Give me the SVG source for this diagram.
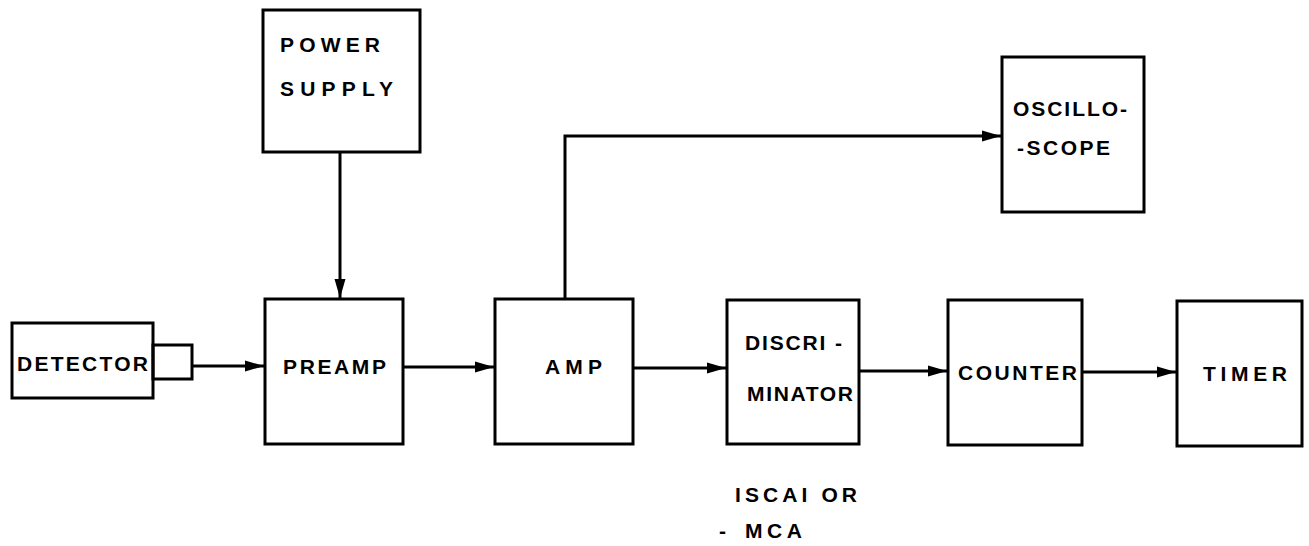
<svg xmlns="http://www.w3.org/2000/svg" width="1309" height="546" viewBox="0 0 1309 546">
<style>
.box{fill:none;stroke:#000;stroke-width:3}
.lbl{font-family:"Liberation Sans",Arial,sans-serif;font-weight:bold;font-size:21px;fill:#000}
.wire{fill:none;stroke:#000;stroke-width:3}
</style>
<defs>
<marker id="arr" markerUnits="userSpaceOnUse" markerWidth="20" markerHeight="14" refX="19" refY="7" orient="auto">
<path d="M0,1.5 L19,7 L0,12.5 Z" fill="#000"/>
</marker>
</defs>
<rect width="1309" height="546" fill="#fff"/>
<g id="connectors">
<line class="wire" x1="192" y1="366" x2="264" y2="366" marker-end="url(#arr)"/>
<line class="wire" x1="340" y1="152" x2="340" y2="298" marker-end="url(#arr)"/>
<line class="wire" x1="403" y1="367" x2="494" y2="367" marker-end="url(#arr)"/>
<polyline class="wire" points="565,299 565,136 1001,136" marker-end="url(#arr)"/>
<line class="wire" x1="633" y1="368" x2="726" y2="368" marker-end="url(#arr)"/>
<line class="wire" x1="859" y1="371" x2="947" y2="371" marker-end="url(#arr)"/>
<line class="wire" x1="1082" y1="372" x2="1176" y2="372" marker-end="url(#arr)"/>
</g>
<g id="detector">
<rect class="box" x="12" y="323" width="141" height="75"/>
<rect class="box" x="153" y="345" width="39" height="34"/>
<text class="lbl" x="17" y="371" textLength="131" lengthAdjust="spacing">DETECTOR</text>
</g>
<g id="power-supply">
<rect class="box" x="263" y="10" width="157" height="142"/>
<text class="lbl" x="280" y="52" textLength="100" lengthAdjust="spacing">POWER</text>
<text class="lbl" x="280" y="96" textLength="113" lengthAdjust="spacing">SUPPLY</text>
</g>
<g id="preamp">
<rect class="box" x="265" y="299" width="138" height="145"/>
<text class="lbl" x="283" y="374" textLength="103" lengthAdjust="spacing">PREAMP</text>
</g>
<g id="amp">
<rect class="box" x="495" y="299" width="138" height="145"/>
<text class="lbl" x="545" y="374" textLength="57" lengthAdjust="spacing">AMP</text>
</g>
<g id="discriminator">
<rect class="box" x="727" y="300" width="132" height="144"/>
<text class="lbl" x="745" y="350" textLength="97" lengthAdjust="spacing">DISCRI -</text>
<text class="lbl" x="747" y="401" textLength="106" lengthAdjust="spacing">MINATOR</text>
</g>
<g id="counter">
<rect class="box" x="948" y="300" width="134" height="145"/>
<text class="lbl" x="958" y="380" textLength="119" lengthAdjust="spacing">COUNTER</text>
</g>
<g id="timer">
<rect class="box" x="1177" y="301" width="125" height="145"/>
<text class="lbl" x="1203" y="381" textLength="84" lengthAdjust="spacing">TIMER</text>
</g>
<g id="oscilloscope">
<rect class="box" x="1002" y="57" width="142" height="155"/>
<text class="lbl" x="1013" y="116" textLength="114" lengthAdjust="spacing">OSCILLO-</text>
<text class="lbl" x="1017" y="155" textLength="93" lengthAdjust="spacing">-SCOPE</text>
</g>
<g id="note">
<text class="lbl" x="735" y="502" textLength="122" lengthAdjust="spacing">ISCAI OR</text>
<text class="lbl" x="719" y="538" font-size="12">-</text>
<text class="lbl" x="745" y="538" textLength="57" lengthAdjust="spacing">MCA</text>
</g>
</svg>
